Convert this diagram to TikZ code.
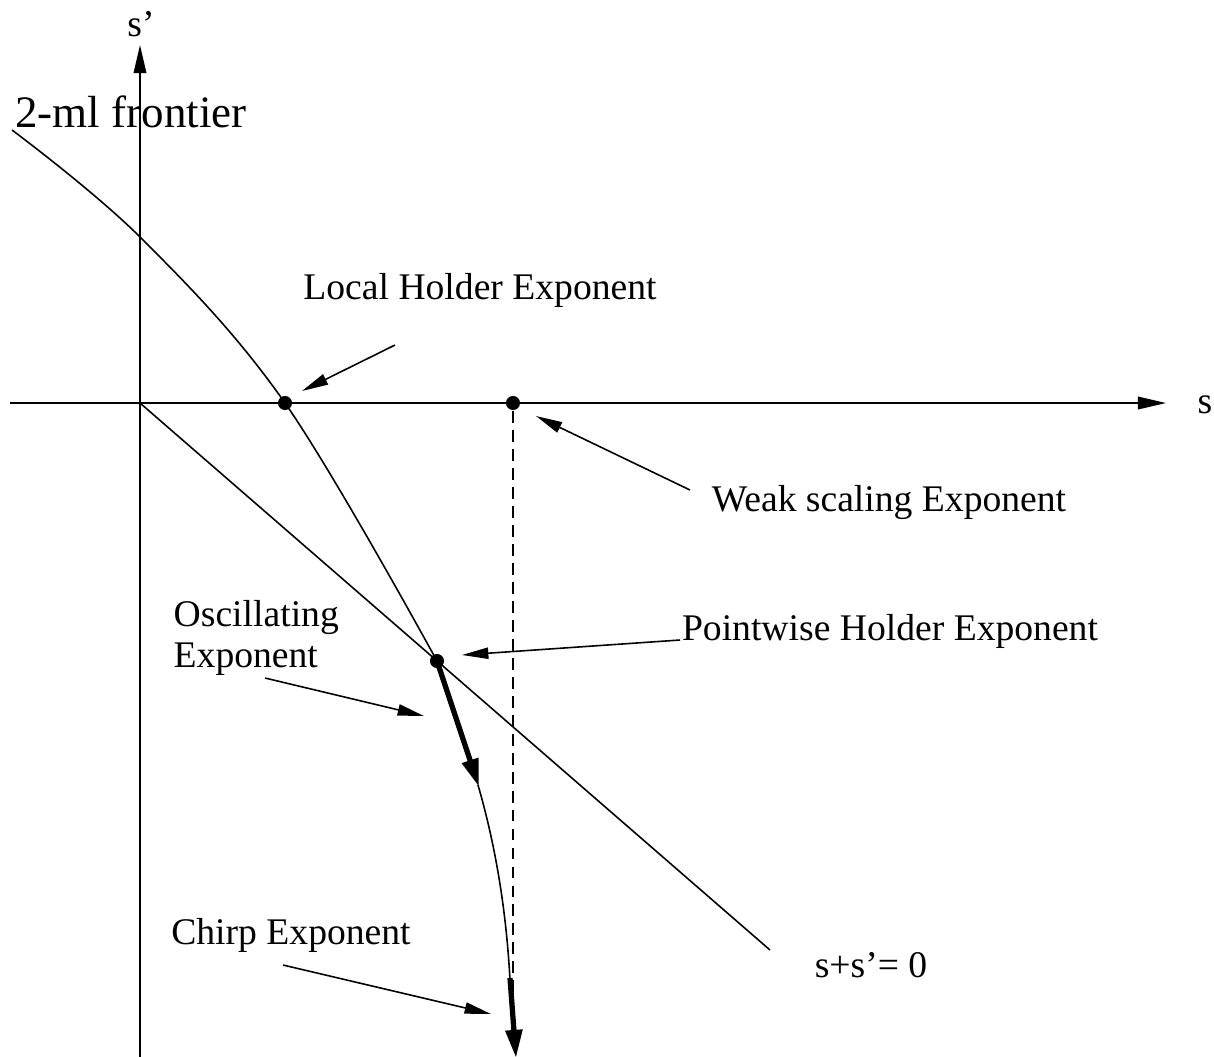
\documentclass[tikz,border=0pt]{standalone}
\usepackage{fontspec}
\setmainfont{Liberation Serif}
\usetikzlibrary{arrows.meta}
\begin{document}
\begin{tikzpicture}[x=0.01cm,y=-0.01cm,
    every node/.style={font=\fontsize{10.7}{11.8}\selectfont,inner sep=0pt},
    thinline/.style={line width=0.45pt},
    axis/.style={line width=0.45pt,-{Triangle[length=8pt,width=3.6pt]}},
    pointer/.style={line width=0.45pt,-{Triangle[length=7.5pt,width=3.2pt]}},
    boldarrow/.style={line width=1.5pt,-{Triangle[length=8pt,width=4.6pt]}},
    dot/.style={circle,fill,minimum size=4pt,inner sep=0pt}]
    \useasboundingbox (0,0) rectangle (1214,1056);
    \coordinate (O) at (140,403);
    \coordinate (xstart) at (10,403);
    \coordinate (xend) at (1166,403);
    \coordinate (ystart) at (140,1060);
    \coordinate (yend) at (140,45);
    \draw[axis] (xstart) -- (xend);
    \draw[axis] (ystart) -- (yend);
    \node (s) at (1205,405) {s};
    \node (sprime) at (141,24) {s'};
    \node[font=\fontsize{12.8}{14}\selectfont] (frontier) at (131,112) {2-ml frontier};
    \draw[thinline] plot[smooth,tension=0.6] coordinates
        {(12,130) (140,237) (285,403) (437,661)};
    \coordinate (lowstart) at (478,785);
    \coordinate (lowend) at (510,980);
    \draw[thinline] (lowstart) .. controls (494,840) and (506,905) .. (lowend);
    \coordinate (diagend) at (770,950);
    \draw[thinline] (O) -- (diagend);
    \node (diag) at (871,965) {s+s'= 0};
    \node[dot] (local) at (285,403) {};
    \node[dot] (weak) at (513,403) {};
    \node[dot] (pointwise) at (437,661) {};
    \coordinate (dashend) at (513,1005);
    \draw[thinline,dash pattern=on 3.4pt off 2pt] (weak) -- (dashend);
    \coordinate (oscend) at (479,787);
    \draw[boldarrow] (pointwise.center) -- (oscend);
    \coordinate (chirpstart) at (510,978);
    \coordinate (chirpend) at (516,1058);
    \draw[boldarrow] (chirpstart) -- (chirpend);
    \node (localtext) at (480,290) {Local Holder Exponent};
    \node (weaktext) at (889,502) {Weak scaling Exponent};
    \node (pointtext) at (890,631) {Pointwise Holder Exponent};
    \node[align=left,anchor=west] (osctext) at (173,638) {Oscillating\\Exponent};
    \node (chirptext) at (291,935) {Chirp Exponent};
    \coordinate (a1) at (395,345);
    \coordinate (b1) at (302,391);
    \coordinate (a2) at (690,490);
    \coordinate (b2) at (536,416);
    \coordinate (a3) at (680,640);
    \coordinate (b3) at (462,655);
    \coordinate (a4) at (265,678);
    \coordinate (b4) at (424,716);
    \coordinate (a5) at (283,965);
    \coordinate (b5) at (491,1014);
    \draw[pointer] (a1) -- (b1);
    \draw[pointer] (a2) -- (b2);
    \draw[pointer] (a3) -- (b3);
    \draw[pointer] (a4) -- (b4);
    \draw[pointer] (a5) -- (b5);
\end{tikzpicture}
\end{document}
